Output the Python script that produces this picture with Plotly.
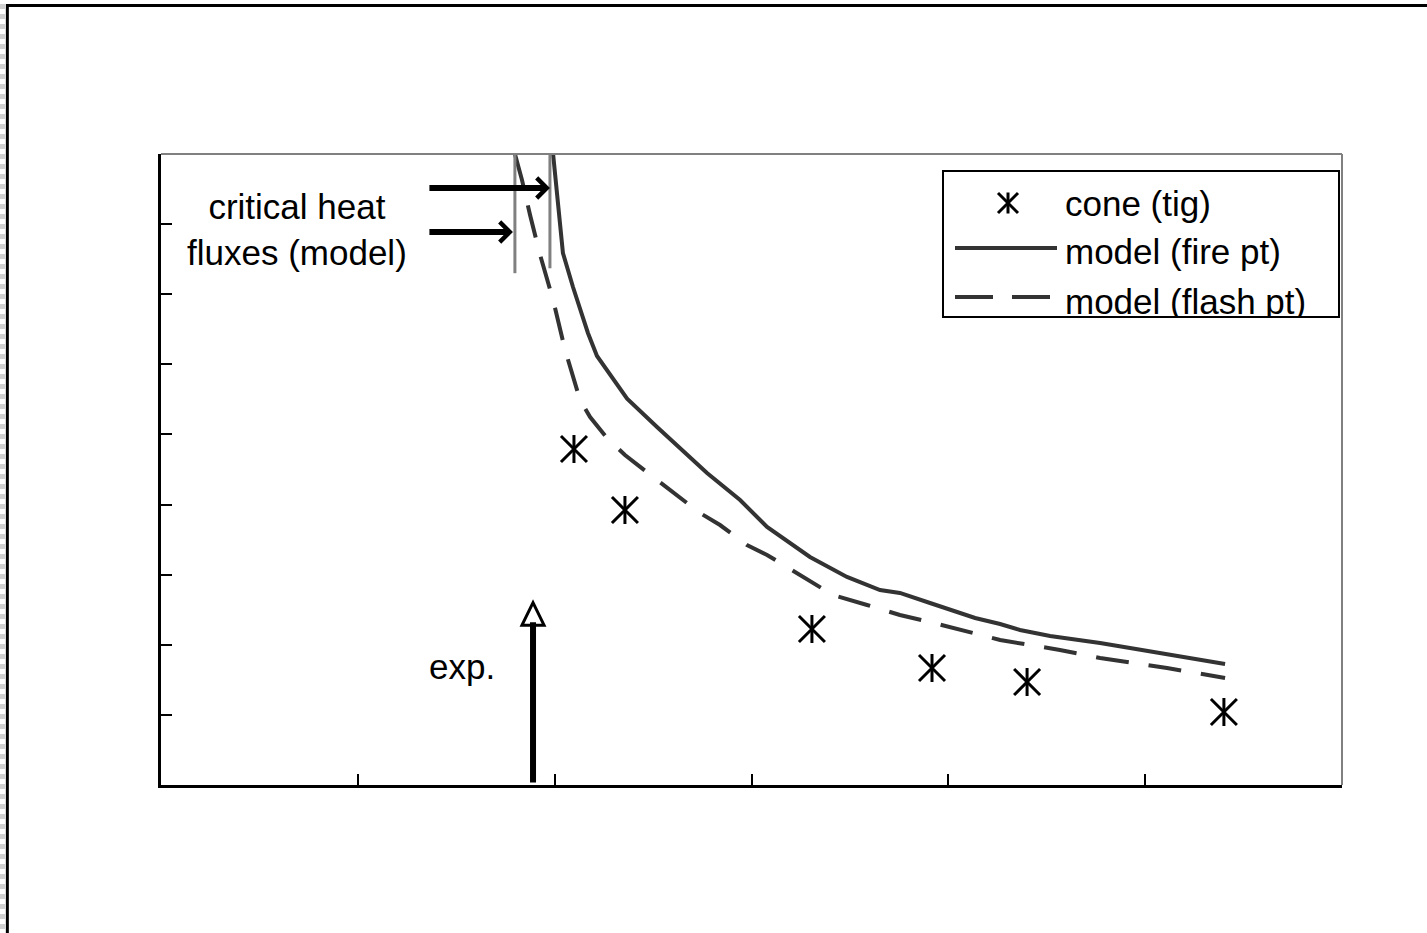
import plotly.graph_objects as go

# ---------------- data ----------------
fire_flux = [19.92, 20.12, 20.42, 20.93, 21.69, 22.15, 22.91, 23.68, 25.20, 27.74,
             29.42, 30.79, 32.97, 34.85, 36.53, 37.54, 39.07, 40.34, 41.36, 42.63,
             43.64, 45.17, 46.44, 47.71, 49.23, 51.11, 52.79, 54.06]
fire_time = [900, 848.7, 758.8, 710.3, 644.7, 612.0, 582.5, 551.1, 510.6, 445.0,
             406.5, 368.0, 325.2, 296.7, 278.1, 273.9, 259.6, 248.2, 238.2, 229.6,
             221.1, 212.5, 208.2, 202.5, 195.4, 186.8, 179.7, 172.6]

flash_flux = [17.98, 18.34, 18.75, 19.26, 19.92, 20.53, 21.29, 21.80, 22.66, 23.57,
              25.00, 26.01, 27.38, 28.40, 29.77, 30.79, 32.46, 34.14, 35.87, 37.54,
              39.07, 40.59, 42.63, 44.15, 45.67, 47.71, 51.11, 54.06]
flash_time = [900, 862.9, 813.0, 756.0, 691.8, 620.5, 549.1, 524.9, 494.9, 470.7,
              439.3, 417.9, 388.0, 370.8, 342.3, 328.1, 299.5, 271.0, 256.7, 242.5,
              232.5, 221.1, 206.8, 199.7, 192.6, 181.1, 166.9, 152.6]

cone_flux = [20.98, 23.57, 33.07, 39.17, 44.0, 54.0]
cone_tig = [479.2, 392.2, 222.5, 166.9, 146.9, 104.1]

crit_flux_flash = 17.98
crit_flux_fire = 19.76
crit_flux_exp = 18.9

x_ticks = [0, 10, 20, 30, 40, 50, 60]
y_ticks = [0, 100, 200, 300, 400, 500, 600, 700, 800, 900]

legend_names = ["cone (tig)", "model (fire pt)", "model (flash pt)"]

FONT = "Liberation Sans, Arial, sans-serif"
FSIZE = 35
LINE_COL = "#333333"
DASH = "33px,20px"

fig = go.Figure()

fig.add_trace(go.Scatter(x=fire_flux, y=fire_time, mode="lines",
                         line=dict(color=LINE_COL, width=4), name=legend_names[1]))
fig.add_trace(go.Scatter(x=flash_flux, y=flash_time, mode="lines",
                         line=dict(color=LINE_COL, width=4, dash=DASH), name=legend_names[2]))
fig.add_trace(go.Scatter(x=cone_flux, y=cone_tig, mode="markers",
                         marker=dict(symbol="x-thin-open", size=26, color="black",
                                     line=dict(color="black", width=3)),
                         name=legend_names[0]))
fig.add_trace(go.Scatter(x=cone_flux, y=cone_tig, mode="markers",
                         marker=dict(symbol="line-ns-open", size=20, color="black",
                                     line=dict(color="black", width=3)),
                         showlegend=False))

# ---------------- hand-drawn legend (pixel overlay axes) ----------------
fig.add_trace(go.Scatter(x=[1008], y=[203], mode="markers", xaxis="x2", yaxis="y2",
                         marker=dict(symbol="x-thin-open", size=20, color="black",
                                     line=dict(color="black", width=3))))
fig.add_trace(go.Scatter(x=[1008], y=[203], mode="markers", xaxis="x2", yaxis="y2",
                         marker=dict(symbol="line-ns-open", size=15, color="black",
                                     line=dict(color="black", width=3))))
fig.add_trace(go.Scatter(x=[955, 1057], y=[248, 248], mode="lines", xaxis="x2", yaxis="y2",
                         line=dict(color=LINE_COL, width=4)))
fig.add_trace(go.Scatter(x=[955, 1050], y=[297, 297], mode="lines", xaxis="x2", yaxis="y2",
                         line=dict(color=LINE_COL, width=4, dash="38px,19px")))
fig.add_trace(go.Scatter(x=[1065, 1065, 1065], y=[207, 255, 305], mode="text",
                         xaxis="x2", yaxis="y2", text=legend_names,
                         textposition="middle right",
                         textfont=dict(family=FONT, size=FSIZE, color="black")))

shapes = []
# critical heat flux markers
shapes.append(dict(type="line", xref="x", yref="y", x0=crit_flux_flash, x1=crit_flux_flash,
                   y0=730, y1=900, line=dict(color="#808080", width=3)))
shapes.append(dict(type="line", xref="x", yref="y", x0=crit_flux_fire, x1=crit_flux_fire,
                   y0=737, y1=900, line=dict(color="#808080", width=3)))
# legend clip + box
shapes.append(dict(type="rect", xref="x2", yref="y2", x0=945, x1=1337, y0=318, y1=345,
                   fillcolor="white", line=dict(width=0), layer="above"))
shapes.append(dict(type="rect", xref="x2", yref="y2", x0=943, x1=1339, y0=171, y1=317,
                   line=dict(color="black", width=2), layer="above"))
# top / right plot border (gray)
shapes.append(dict(type="line", xref="paper", yref="paper", x0=0, x1=1, y0=1, y1=1,
                   line=dict(color="#808080", width=2)))
shapes.append(dict(type="line", xref="paper", yref="paper", x0=1, x1=1, y0=0, y1=1,
                   line=dict(color="#808080", width=2)))
# outer frame
shapes.append(dict(type="line", xref="paper", yref="paper", x0=-0.1312, x1=1.08,
                   y0=1.2354, y1=1.2354, line=dict(color="black", width=3)))
shapes.append(dict(type="line", xref="paper", yref="paper", x0=-0.1301, x1=-0.1301,
                   y0=1.2377, y1=-0.24, line=dict(color="black", width=3)))
shapes.append(dict(type="line", xref="paper", yref="paper", x0=-0.1342, x1=-0.1342,
                   y0=1.2377, y1=-0.24, line=dict(color="#cfcfcf", width=5, dash="dot")))
# hollow head of the experimental arrow
shapes.append(dict(type="path", xref="x", yref="y",
                   path=f"M{crit_flux_exp - 0.56},228 L{crit_flux_exp},260 L{crit_flux_exp + 0.56},228 Z",
                   fillcolor="white", line=dict(color="black", width=3), layer="above"))

annotations = [
    dict(xref="x2", yref="y2", x=297, y=229, text="critical heat<br>fluxes (model)",
         showarrow=False, font=dict(family=FONT, size=FSIZE, color="black"), align="center"),
    dict(xref="x2", yref="y2", x=462, y=666, text="exp.", showarrow=False,
         font=dict(family=FONT, size=FSIZE, color="black")),
    dict(xref="x", yref="y", x=crit_flux_fire, y=851.5, axref="x", ayref="y",
         ax=13.56, ay=851.5, text="", showarrow=True, arrowhead=4, arrowwidth=6,
         arrowsize=0.65, arrowcolor="black", standoff=0),
    dict(xref="x", yref="y", x=crit_flux_flash - 0.1, y=788.8, axref="x", ayref="y",
         ax=13.56, ay=788.8, text="", showarrow=True, arrowhead=4, arrowwidth=6,
         arrowsize=0.65, arrowcolor="black", standoff=0),
    dict(xref="x", yref="y", x=crit_flux_exp, y=232, axref="x", ayref="y",
         ax=crit_flux_exp, ay=1.5, text="", showarrow=True, arrowhead=0, arrowwidth=6,
         arrowcolor="black", standoff=0),
]

fig.update_layout(
    width=1427, height=933,
    margin=dict(l=161, r=85, t=154, b=148, pad=0),
    paper_bgcolor="white", plot_bgcolor="white",
    showlegend=False,
    shapes=shapes, annotations=annotations,
    xaxis=dict(range=[0, 60], tickvals=x_ticks, ticks="inside", ticklen=11, tickwidth=2,
               tickcolor="black", showticklabels=False, showgrid=False, zeroline=False,
               showline=True, linecolor="black", linewidth=3),
    yaxis=dict(range=[0, 900], tickvals=y_ticks, ticks="inside", ticklen=11, tickwidth=2,
               tickcolor="black", showticklabels=False, showgrid=False, zeroline=False,
               showline=True, linecolor="black", linewidth=3),
    xaxis2=dict(range=[161, 1342], overlaying="x", visible=False),
    yaxis2=dict(range=[785, 154], overlaying="y", visible=False),
)

fig.write_html("out.html")
